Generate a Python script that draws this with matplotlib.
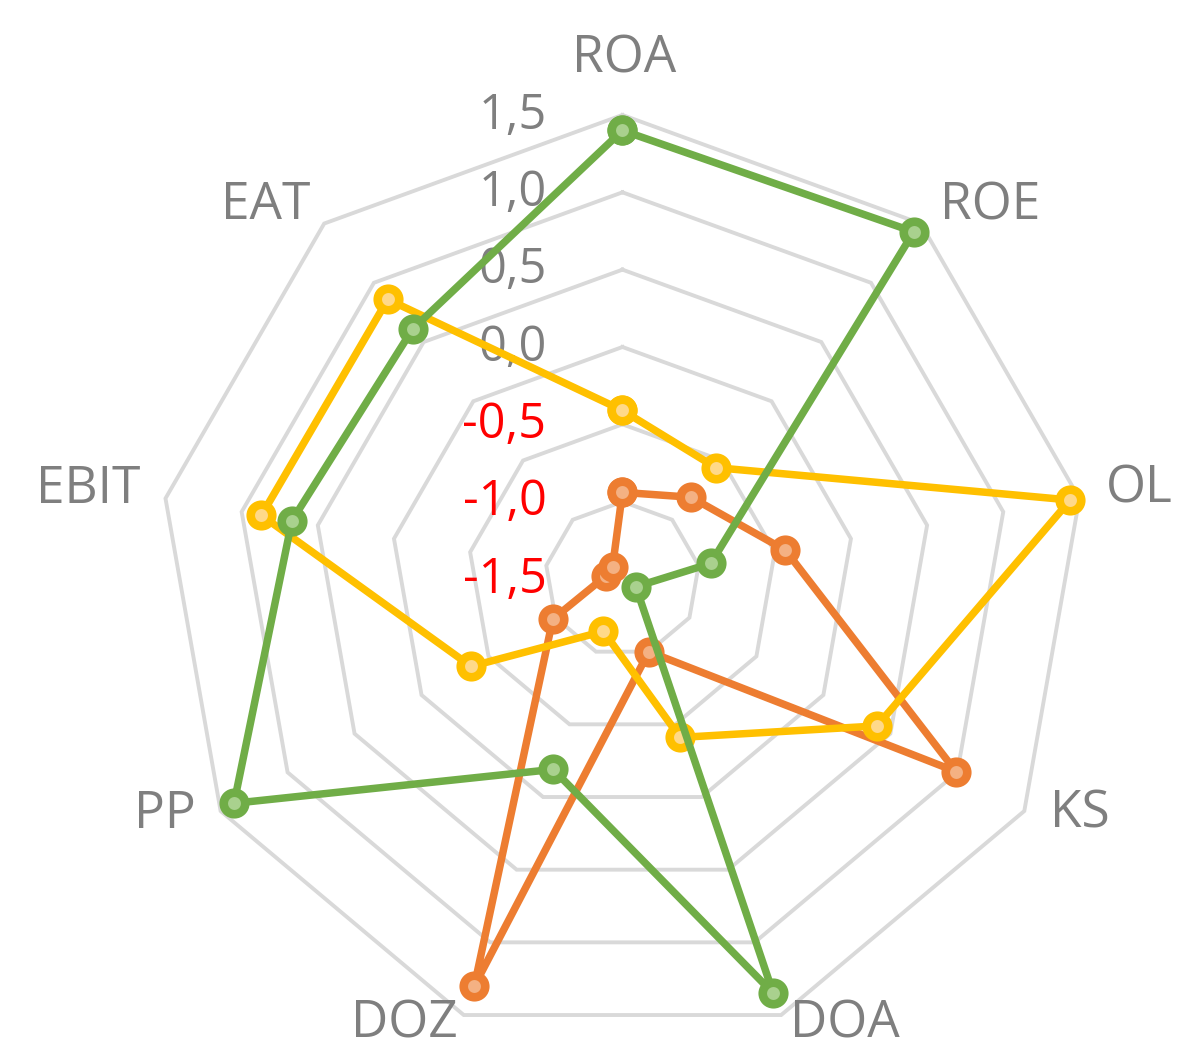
import numpy as np
import matplotlib
matplotlib.use("Agg")
import matplotlib.pyplot as plt

# ---------------- data ----------------
categories = ["ROA", "ROE", "OL", "KS", "DOA", "DOZ", "PP", "EBIT", "EAT"]
orange_vals = [-0.94, -0.81, -0.43, 0.99, -1.00, 1.30, -0.98, -1.39, -1.40]
yellow_vals = [-0.41, -0.56, 1.44, 0.40, -0.41, -1.14, -0.37, 0.87, 0.86]
green_vals = [1.40, 1.43, -0.92, -1.40, 1.35, -0.19, 1.40, 0.67, 0.61]
tick_values = [-1.5, -1.0, -0.5, 0.0, 0.5, 1.0, 1.5]
tick_labels = ["-1,5", "-1,0", "-0,5", "0,0", "0,5", "1,0", "1,5"]

# ---------------- style ----------------
plt.rcParams['font.family'] = ['Open Sans', 'DejaVu Sans']
GRID = '#D9D9D9'
TXT = '#7F7F7F'
NEG = '#FF0000'
series = [
    (orange_vals, '#ED7D31', '#F4B183'),
    (yellow_vals, '#FFC000', '#FFD98A'),
    (green_vals, '#70AD47', '#A9D18E'),
]
PX = 72.0 / 100.0  # pixels -> points at dpi 100
# label offsets (pixels, from outer vertex to label centre; y down)
label_offsets = [(2, -56), (69, -18), (60, -9), (56, 3), (64, 9),
                 (-59, 9), (-56, 3), (-77, -9), (-59, -18)]

fig = plt.figure(figsize=(11.78, 10.51), dpi=100)
fig.patch.set_facecolor('white')
ax = fig.add_axes([0.1345, 0.0076, 0.7878, 0.8830], projection='polar')
ax.set_theta_zero_location('N')
ax.set_theta_direction(-1)
ax.set_rlim(tick_values[0], tick_values[-1])
ax.set_xticks([])
ax.set_yticks([])
ax.grid(False)
ax.spines['polar'].set_visible(False)
ax.patch.set_alpha(0)

n = len(categories)
theta = np.deg2rad(np.arange(n) * 360.0 / n)
theta_c = np.append(theta, theta[0])

# polygon rings
for v in tick_values[1:]:
    ax.plot(theta_c, [v] * (n + 1), color=GRID, lw=2.8, zorder=1,
            solid_joinstyle='miter', clip_on=False)

# series
for vals, col, light in series:
    vc = list(vals) + [vals[0]]
    ax.plot(theta_c, vc, color=col, lw=5.4, zorder=3, clip_on=False,
            marker='o', ms=15.5, mew=6.2, mfc=light, mec=col,
            solid_joinstyle='round')

# category labels
for i, cat in enumerate(categories):
    dx, dy = label_offsets[i]
    ax.annotate(cat, xy=(theta[i], tick_values[-1]), xytext=(dx * PX, -dy * PX),
                textcoords='offset points', ha='center', va='center',
                fontsize=37, color=TXT, annotation_clip=False)

# value labels
for v, lab in zip(tick_values, tick_labels):
    ax.annotate(lab, xy=(0, v), xytext=(-76 * PX, -1 * PX), textcoords='offset points',
                ha='right', va='center', fontsize=35,
                color=NEG if v < 0 else TXT, annotation_clip=False, zorder=2)

fig.savefig('out.png', dpi=100, facecolor='white')
